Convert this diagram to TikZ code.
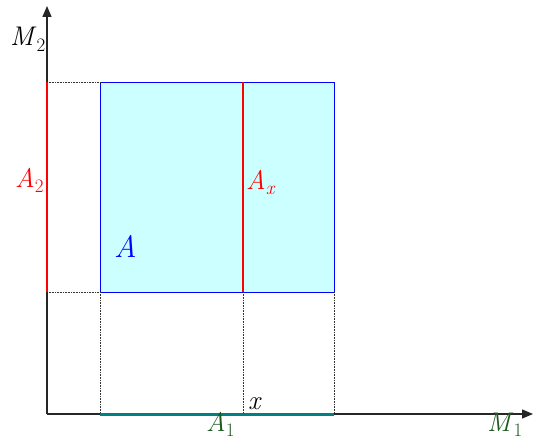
\documentclass[tikz,border=0pt]{standalone}
\usepackage{fontspec}
\usetikzlibrary{arrows.meta}
\definecolor{boxfill}{RGB}{204,255,255}
\definecolor{boxline}{RGB}{0,0,255}
\definecolor{redline}{RGB}{255,0,0}
\definecolor{tealline}{RGB}{0,128,128}
\definecolor{dgreen}{RGB}{30,90,30}
\newcommand\sublbl[2]{\textit{#1}\raisebox{-0.2em}{\fontsize{19}{19}\selectfont #2}}
\begin{document}
\begin{tikzpicture}[x=1pt,y=-1pt,
  axis/.style={line width=1.3pt,draw=black!85,-{Triangle[length=11pt,width=9pt]}},
  guide/.style={densely dotted,line width=0.6pt,draw=black!80},
  lbl/.style={inner sep=0pt,font=\fontsize{27}{27}\selectfont}]
\useasboundingbox (0,0) rectangle (534,441);
\coordinate (O) at (47,414);
\coordinate (Ytop) at (47,6);
\coordinate (Xend) at (533,414);
\coordinate (SW) at (100,292);
\coordinate (NW) at (100,82);
\coordinate (SE) at (334,292);
\coordinate (XT) at (243,82);
\coordinate (XB) at (243,292);
\coordinate (XA) at (243,414);
\coordinate (A2T) at (47,82);
\coordinate (A2B) at (47,292);
\coordinate (A1L) at (100,414);
\coordinate (A1R) at (334,414);
\node[draw=boxline,fill=boxfill,line width=1pt,minimum width=234pt,minimum height=210pt,anchor=north west,inner sep=0pt] (box) at (NW) {};
\draw[guide] (A2T) -- (NW);
\draw[guide] (A2B) -- (SW);
\draw[guide] (SW) -- (A1L);
\draw[guide] (XB) -- (XA);
\draw[guide] (SE) -- (A1R);
\draw[axis] (O) -- (Ytop);
\draw[axis] (O) -- (Xend);
\draw[redline,line width=1.2pt] (XT) -- (XB);
\draw[redline,line width=2.5pt] (A2T) -- (A2B);
\draw[tealline,line width=3pt] (A1L) -- (A1R);
\node[lbl,anchor=base west] (m2) at (10,46) {\sublbl{M}{2}};
\node[lbl,text=redline,anchor=base west] (a2) at (15,187) {\sublbl{A}{2}};
\node[lbl,text=redline,anchor=base west] (ax) at (246,189) {\textit{A}\raisebox{-0.2em}{\fontsize{19}{19}\selectfont\itshape x}};
\node[inner sep=0pt,text=boxline,font=\fontsize{31}{31}\selectfont\itshape,anchor=base west] (a) at (114,257) {A};
\node[lbl,anchor=base west] (x) at (248,409) {\textit{x}};
\node[lbl,text=dgreen,anchor=base west] (a1) at (206,431) {\sublbl{A}{1}};
\node[lbl,text=dgreen,anchor=base west] (m1) at (487,431) {\sublbl{M}{1}};
\end{tikzpicture}
\end{document}
